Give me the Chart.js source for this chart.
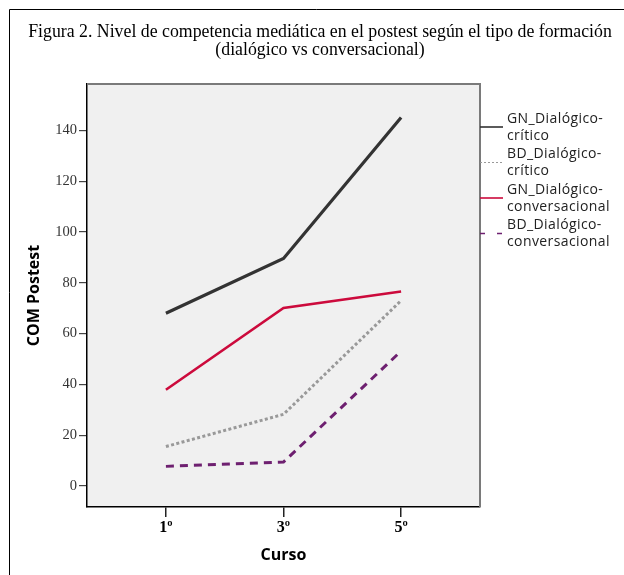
<!DOCTYPE html>
<html>
<head>
<meta charset="utf-8">
<script src="https://cdn.jsdelivr.net/npm/chart.js@4/dist/chart.umd.min.js"></script>
<style>
html,body{margin:0;padding:0;background:#fff;}
canvas{display:block;}
</style>
</head>
<body>
<canvas id="c" width="624" height="575"></canvas>
<script>
const titleLines = ['Figura 2. Nivel de competencia mediática en el postest según el tipo de formación', '(dialógico vs conversacional)'];
const categories = ['1º', '3º', '5º'];
const seriesLabels = ['GN_Dialógico-crítico', 'BD_Dialógico-crítico', 'GN_Dialógico-conversacional', 'BD_Dialógico-conversacional'];
const gnCritico = [68.0, 89.6, 145.1];
const bdCritico = [15.5, 28.2, 73.0];
const gnConversacional = [37.9, 70.1, 76.6];
const bdConversacional = [7.7, 9.4, 53.1];
const yAxisTitle = 'COM Postest';
const xAxisTitle = 'Curso';

function pts(vals){ return categories.map((c,i)=>({x:i, y:vals[i]})); }

const decor = {
  id:'decor',
  beforeDraw(chart){
    const {ctx, chartArea:a} = chart;
    ctx.save();
    ctx.fillStyle = '#fff';
    ctx.fillRect(0,0,chart.width,chart.height);
    ctx.fillStyle = '#f0f0f0';
    ctx.fillRect(a.left, a.top, a.right-a.left, a.bottom-a.top);
    ctx.restore();
  },
  afterDraw(chart){
    const {ctx, chartArea:a} = chart;
    ctx.save();
    // plot top/right border
    ctx.strokeStyle = '#7a7a7a';
    ctx.lineWidth = 2;
    ctx.beginPath();
    ctx.moveTo(a.left, a.top); ctx.lineTo(a.right, a.top); ctx.lineTo(a.right, a.bottom);
    ctx.stroke();
    // outer frame
    ctx.strokeStyle = '#000';
    ctx.lineWidth = 1;
    ctx.beginPath();
    ctx.moveTo(9.5, chart.height); ctx.lineTo(9.5, 9.5); ctx.lineTo(chart.width, 9.5);
    ctx.stroke();
    // title
    ctx.fillStyle = '#000';
    ctx.font = '17.8px "Liberation Serif"';
    ctx.textAlign = 'center';
    ctx.textBaseline = 'alphabetic';
    ctx.fillText(titleLines[0], 320, 37);
    ctx.fillText(titleLines[1], 320, 55);
    // legend
    ctx.textAlign = 'left';
    ctx.textBaseline = 'middle';
    ctx.font = '14px "Open Sans"';
    try { ctx.letterSpacing = '0.4px'; } catch(e) {}
    const x0 = a.right, x1 = a.right + 23, tx = a.right + 27;
    chart.data.datasets.forEach((ds, i) => {
      const y = 127 + i*35.5;
      ctx.strokeStyle = ds.borderColor;
      ctx.lineWidth = ds.legendWidth;
      ctx.setLineDash(ds.legendDash);
      ctx.beginPath(); ctx.moveTo(x0, y); ctx.lineTo(x1, y); ctx.stroke();
      ctx.setLineDash([]);
      const parts = ds.label.replace('-', '-\n').split('\n');
      ctx.fillStyle = '#222';
      ctx.fillText(parts[0], tx, y - 8);
      ctx.fillText(parts[1], tx, y + 9);
    });
    ctx.restore();
  }
};

new Chart(document.getElementById('c'), {
  type: 'line',
  data: {
    datasets: [
      {label: seriesLabels[0], data: pts(gnCritico), borderColor:'#333333', borderWidth:3.2, legendWidth:1.6, legendDash:[]},
      {label: seriesLabels[1], data: pts(bdCritico), borderColor:'#999999', borderWidth:3, borderDash:[3,2.4], legendWidth:1, legendDash:[2,2]},
      {label: seriesLabels[2], data: pts(gnConversacional), borderColor:'#cc0a3c', borderWidth:2.6, legendWidth:1.6, legendDash:[]},
      {label: seriesLabels[3], data: pts(bdConversacional), borderColor:'#6e2070', borderWidth:3, borderDash:[8,6], legendWidth:1.6, legendDash:[5,12]}
    ]
  },
  options: {
    responsive:false,
    animation:false,
    devicePixelRatio:1,
    layout:{padding:{left:0, top:84, right:144, bottom:0}},
    elements:{point:{radius:0}, line:{tension:0, borderCapStyle:'butt'}},
    plugins:{legend:{display:false}, title:{display:false}, tooltip:{enabled:false}},
    scales:{
      x:{
        type:'linear', min:-0.671, max:2.671,
        afterBuildTicks(s){ s.ticks = categories.map((c,i)=>({value:i})); },
        afterFit(s){ s.height = 68; },
        ticks:{ callback:(v)=>categories[v], color:'#000', font:{family:'"Liberation Serif"', size:16, weight:'bold'}, padding:1, maxRotation:0, autoSkip:false },
        grid:{ drawOnChartArea:false, drawTicks:true, tickLength:10, color:'#222', lineWidth:1.5 },
        border:{ display:true, color:'#000', width:1.5 },
        title:{ display:true, text:xAxisTitle, color:'#000', font:{family:'"Open Sans"', size:16, weight:'bold'}, padding:{top:0, bottom:10.4} }
      },
      y:{
        type:'linear', min:-8.3, max:158.3,
        afterFit(s){ s.width = 87; },
        ticks:{ stepSize:20, includeBounds:false, color:'#333', font:{family:'"Liberation Serif"', size:14.5}, padding:2 },
        grid:{ drawOnChartArea:false, drawTicks:true, tickLength:8, color:'#444', lineWidth:1.2 },
        border:{ display:true, color:'#000', width:1.5 },
        title:{ display:true, text:yAxisTitle, color:'#000', font:{family:'"Open Sans"', size:16, weight:'bold'}, padding:{top:24.4, bottom:0} }
      }
    }
  },
  plugins:[decor]
});
</script>
</body>
</html>
